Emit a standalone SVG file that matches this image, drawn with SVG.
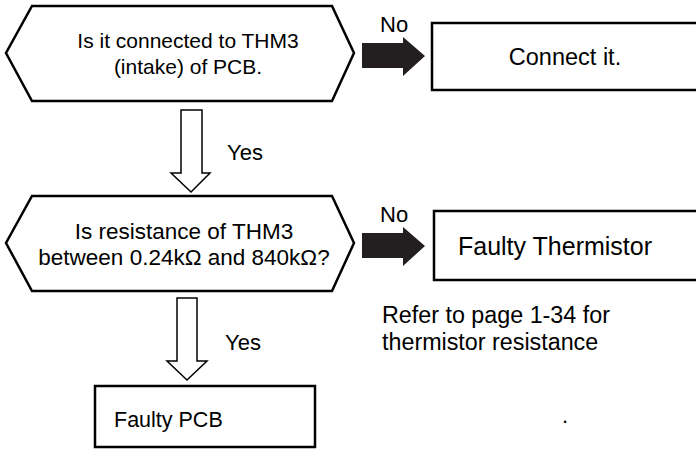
<svg xmlns="http://www.w3.org/2000/svg" width="696" height="450" viewBox="0 0 696 450">
<style>
.s{fill:#fff;stroke:#000;stroke-width:2.5;stroke-linejoin:miter}
.h{fill:#fff;stroke:#000;stroke-width:1.5}
.b{fill:#231f20;stroke:none}
text{font-family:"Liberation Sans",Arial,sans-serif;font-size:22px;fill:#000}
.m{text-anchor:middle}
</style>
<rect width="696" height="450" fill="#fff"/>
<g id="q1">
<polygon class="s" points="32,6 332,6 354,53 332,101 32,101 6,53"/>
<text class="m" x="188" y="48" style="font-size:21px">Is it connected to THM3</text>
<text class="m" x="188" y="74" style="font-size:21px">(intake) of PCB.</text>
</g>
<g id="connect">
<rect class="s" x="432" y="23" width="266" height="67"/>
<text class="m" x="565" y="65" style="font-size:23.5px">Connect it.</text>
</g>
<g id="q2">
<polygon class="s" points="32,196 332,196 354,243 332,291 32,291 6,243"/>
<text class="m" x="184" y="239" style="font-size:22.5px">Is resistance of THM3</text>
<text class="m" x="184" y="265" style="font-size:22.5px">between 0.24kΩ and 840kΩ?</text>
</g>
<g id="thermistor">
<rect class="s" x="434" y="211" width="266" height="69"/>
<text class="m" x="555" y="255" style="font-size:25px">Faulty Thermistor</text>
</g>
<g id="note">
<text x="382" y="323" style="font-size:23.3px">Refer to page 1-34 for</text>
<text x="382" y="350" style="font-size:23.3px">thermistor resistance</text>
<text x="562" y="423">.</text>
</g>
<g id="pcb">
<rect class="s" x="95" y="386" width="220" height="61"/>
<text x="114" y="427" style="font-size:21.5px">Faulty PCB</text>
</g>
<g id="connectors">
<polygon class="b" points="362,43 403,43 403,37 425,56 403,76 403,68 362,68"/>
<text x="380" y="32">No</text>
<polygon class="b" points="362,233 403,233 403,227 425,246 403,266 403,258 362,258"/>
<text x="380" y="222">No</text>
<polygon class="h" points="181,110 202,110 202,173 210,173 191,192 171,173 181,173"/>
<text x="227" y="160">Yes</text>
<polygon class="h" points="177,298 197,298 197,361 207,361 187,380 167,361 177,361"/>
<text x="225" y="350">Yes</text>
</g>
</svg>
